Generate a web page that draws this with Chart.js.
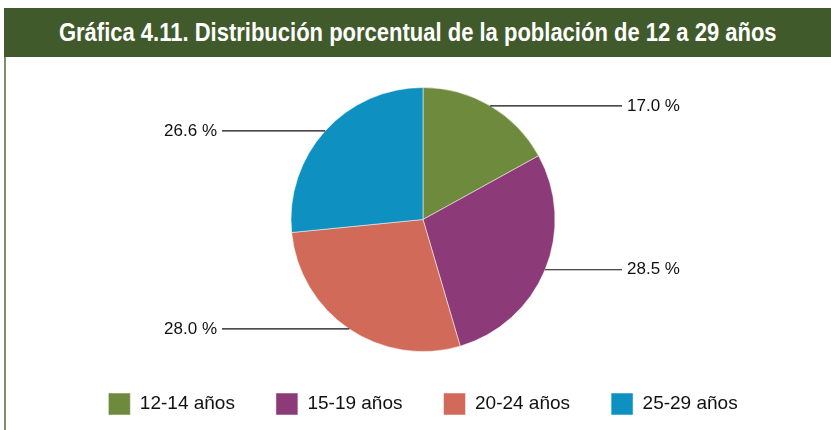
<!DOCTYPE html>
<html>
<head>
<meta charset="utf-8">
<script src="https://cdn.jsdelivr.net/npm/chart.js@4.4.1/dist/chart.umd.min.js"></script>
<style>
  html, body { margin: 0; padding: 0; background: #fff; overflow: hidden; }
  #frame { position: absolute; left: 4px; top: 8px; width: 827px; height: 422px; border-left: 2px solid #7d8f6c; box-sizing: border-box; }
  #title { position: absolute; left: 4px; top: 8px; width: 827px; height: 49px; background: #415a2c; color: #fff;
           font: bold 25px "Liberation Sans", Arial, sans-serif; line-height: 49px; text-align: center; }
  #title span { display: inline-block; transform: scaleX(0.88); transform-origin: center; white-space: nowrap; }
  #wrap { position: absolute; left: 6px; top: 57px; width: 825px; height: 373px; }
</style>
</head>
<body>
<div id="frame"></div>
<div id="title"><span>Gráfica 4.11. Distribución porcentual de la población de 12 a 29 años</span></div>
<div id="wrap"><canvas id="myChart"></canvas></div>
<script>
'use strict';

const categories = ['12-14 años', '15-19 años', '20-24 años', '25-29 años'];
const values = [17.0, 28.5, 28.0, 26.6];
const valueLabels = ['17.0 %', '28.5 %', '28.0 %', '26.6 %'];
const colors = ['#6e8b3d', '#8c3b78', '#d16a58', '#0e91c0'];

const FONT = '"Liberation Sans", Arial, sans-serif';

// leader lines with the value labels
const leaderLabels = {
    id: 'leaderLabels',
    afterDatasetsDraw(chart) {
        const ctx = chart.ctx;
        const arcs = chart.getDatasetMeta(0).data;
        ctx.save();
        ctx.font = '17px ' + FONT;
        ctx.fillStyle = '#111';
        ctx.strokeStyle = '#111';
        ctx.lineWidth = 1.2;
        ctx.textBaseline = 'middle';
        arcs.forEach((arc, i) => {
            const p = arc.getProps(['x', 'y', 'startAngle', 'endAngle', 'outerRadius'], true);
            const mid = (p.startAngle + p.endAngle) / 2;
            const sx = p.x + Math.cos(mid) * p.outerRadius;
            const sy = p.y + Math.sin(mid) * p.outerRadius;
            const right = Math.cos(mid) >= 0;
            const ex = right ? p.x + 199 : p.x - 201;
            ctx.beginPath();
            ctx.moveTo(sx, sy);
            ctx.lineTo(ex, sy);
            ctx.stroke();
            ctx.textAlign = right ? 'left' : 'right';
            ctx.fillText(valueLabels[i], right ? ex + 5 : ex - 5, sy);
        });
        ctx.restore();
    }
};

new Chart(document.getElementById('myChart'), {
    type: 'pie',
    data: {
        labels: categories,
        datasets: [{
            data: values,
            backgroundColor: colors,
            borderColor: 'rgba(255,255,255,0.5)',
            borderWidth: 1
        }]
    },
    options: {
        responsive: true,
        maintainAspectRatio: false,
        animation: false,
        layout: { padding: { top: 30, bottom: 5, left: 9, right: 0 } },
        plugins: {
            legend: {
                position: 'bottom',
                labels: {
                    boxWidth: 22,
                    boxHeight: 22,
                    padding: 41,
                    color: '#111',
                    font: { family: FONT, size: 19 }
                }
            },
            tooltip: { enabled: false }
        }
    },
    plugins: [leaderLabels]
});
</script>
</body>
</html>
